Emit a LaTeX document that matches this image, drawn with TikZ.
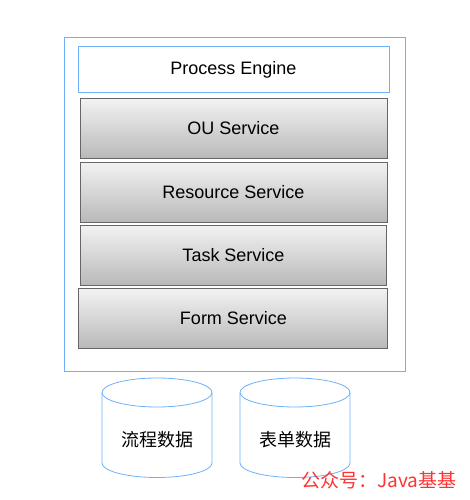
\documentclass[tikz,border=0pt]{standalone}
\usepackage{fontspec}
\setmainfont{Liberation Sans}
\newfontfamily\cjk{Noto Sans CJK SC}
\definecolor{lblue}{RGB}{110,176,250}
\definecolor{bordergray}{RGB}{102,102,102}
\definecolor{wmred}{RGB}{255,50,50}
\tikzset{
  svc/.style={draw=bordergray, top color=gray!10, bottom color=gray!55, line width=0.8pt},
  dbline/.style={draw=lblue, line width=0.8pt},
  lbl/.style={font=\fontsize{18}{20}\selectfont, anchor=base},
  cjklbl/.style={font=\cjk\fontsize{18}{20}\selectfont}
}
\newcommand{\mydb}[1]{%
  \draw[dbline] (#1,392.5) ellipse [x radius=55, y radius=14.5];
  \draw[dbline] (#1-55,392.5) -- (#1-55,463) arc[start angle=180, end angle=360, x radius=55, y radius=-14.5] -- (#1+55,392.5);
}
\begin{document}
\begin{tikzpicture}[x=1pt,y=-1pt]
\useasboundingbox (0,0) rectangle (470,500);
\draw[draw=lblue, line width=0.8pt] (64,37) rectangle (405,371);
\draw[draw=lblue, line width=0.8pt] (78,46) rectangle (389,92);
\node[lbl] (pe) at (233.5,75) {Process Engine};
\draw[svc] (80.5,98.5) rectangle (387,158.5);
\node[lbl] (ou) at (233.5,134.5) {OU Service};
\draw[svc] (80.5,162) rectangle (387,222);
\node[lbl] (rs) at (233.5,198) {Resource Service};
\draw[svc] (80.5,225.5) rectangle (386,285);
\node[lbl] (ts) at (233.5,261) {Task Service};
\draw[svc] (78.5,288.5) rectangle (387,348);
\node[lbl] (fs) at (233.5,324) {Form Service};
\mydb{157}
\node[cjklbl] (t1) at (157,440) {流程数据};
\mydb{295}
\node[cjklbl] (t2) at (295,440) {表单数据};
\node[text=wmred, font=\cjk\fontsize{19}{22}\selectfont, anchor=east] (wm) at (460,480) {公众号：Java基基};
\end{tikzpicture}
\end{document}
